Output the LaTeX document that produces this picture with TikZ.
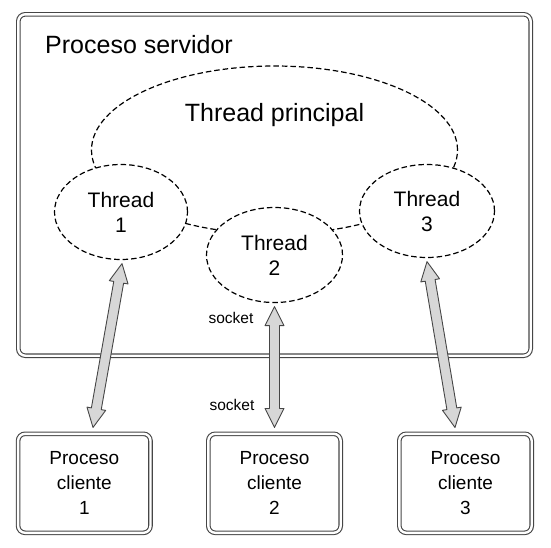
\documentclass[tikz,border=0pt]{standalone}
\usepackage{fontspec}
\setmainfont{Liberation Sans}
\usepackage{tikz}
\usetikzlibrary{positioning,shapes,calc}
\definecolor{myline}{RGB}{70,70,70}
\definecolor{myfill}{RGB}{215,215,215}

% thick two-headed arrow between two points
\newcommand{\fatarrow}[2]{%
  \coordinate (ha) at ($(#1)!19pt!(#2)$);
  \coordinate (hb) at ($(#2)!19pt!(#1)$);
  \draw[fatarrow] (#1) -- ($(ha)!9.5pt!90:(#2)$) -- ($(ha)!5pt!90:(#2)$)
    -- ($(hb)!5pt!-90:(#1)$) -- ($(hb)!9.5pt!-90:(#1)$) -- (#2)
    -- ($(hb)!9.5pt!90:(#1)$) -- ($(hb)!5pt!90:(#1)$)
    -- ($(ha)!5pt!-90:(#2)$) -- ($(ha)!9.5pt!-90:(#2)$) -- cycle;}

\begin{document}
\begin{tikzpicture}[x=1pt,y=-1pt,
		  procbox/.style={draw=myline,double=white,double distance=2.4pt,line width=1.1pt,
		    rounded corners=7pt,inner sep=0pt,align=center},
		  thnode/.style={draw,ellipse,dash pattern=on 5.5pt off 3pt,line width=1.2pt,
		    inner sep=0pt,align=center,font=\fontsize{21}{25}\selectfont},
		  fatarrow/.style={draw=myline,fill=myfill,line width=0.9pt,line join=round},
		  socklbl/.style={inner sep=0pt,font=\fontsize{15.5}{18}\selectfont}
		]
			\useasboundingbox (0,0) rectangle (551,547);

			% the server process
			\node[procbox,minimum width=512.4pt,minimum height=341.4pt] (server) at (274.5,185) {};
			\node[inner sep=0pt,anchor=base west,font=\fontsize{25}{29}\selectfont] (srvlbl) at (45,53) {Proceso servidor};

			% the main thread
			\node[thnode,minimum width=366pt,minimum height=168pt] (tp) at (274.5,150) {};
			\node[inner sep=0pt,anchor=base,font=\fontsize{25}{29}\selectfont] (tplbl) at (274.5,121) {Thread principal};

			% the worker threads
			\node[thnode,fill=white,minimum width=133pt,minimum height=95pt] (t1) at (121,212) {Thread\\1};
			\node[thnode,fill=white,minimum width=136pt,minimum height=95pt] (t2) at (274.5,255) {Thread\\2};
			\node[thnode,fill=white,minimum width=135pt,minimum height=93pt] (t3) at (427,211) {Thread\\3};

			% the client processes
			\foreach \i/\x in {1/84.3,2/274.5,3/465.5}
			  \node[procbox,minimum width=132.4pt,minimum height=99pt,
			    font=\fontsize{19}{25}\selectfont] (c\i) at (\x,483.3) {Proceso\\cliente\\\i};

			% the sockets
			\node[socklbl,anchor=base] (s1) at (231,323) {socket};
			\node[socklbl,anchor=base] (s2) at (232,410) {socket};

			% the connections
			\coordinate (t1s) at ($(t1.south)+(1,3.5)$);
			\coordinate (t2s) at ($(t2.south)+(0,3.5)$);
			\coordinate (t3s) at ($(t3.south)+(0,3.5)$);
			\coordinate (c1n) at ($(c1.north)+(8.7,-5.8)$);
			\coordinate (c2n) at ($(c2.north)+(0,-5.8)$);
			\coordinate (c3n) at ($(c3.north)+(-10.5,-5.8)$);
			\fatarrow{t1s}{c1n}
			\fatarrow{t2s}{c2n}
			\fatarrow{t3s}{c3n}

		\end{tikzpicture}
\end{document}
